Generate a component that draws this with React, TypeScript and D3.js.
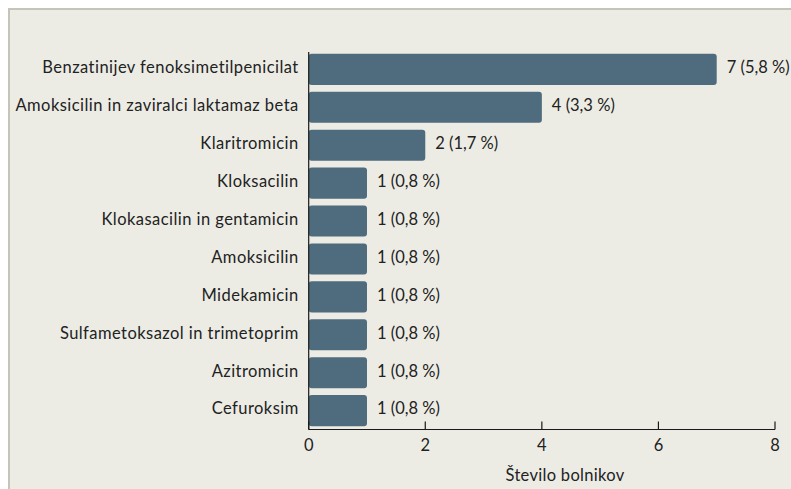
import React, { useEffect, useRef } from "react";
import * as d3 from "d3";

const drugs = [
  "Benzatinijev fenoksimetilpenicilat",
  "Amoksicilin in zaviralci laktamaz beta",
  "Klaritromicin",
  "Kloksacilin",
  "Klokasacilin in gentamicin",
  "Amoksicilin",
  "Midekamicin",
  "Sulfametoksazol in trimetoprim",
  "Azitromicin",
  "Cefuroksim",
];
const patients = [7, 4, 2, 1, 1, 1, 1, 1, 1, 1];
const shares = ["5,8", "3,3", "1,7", "0,8", "0,8", "0,8", "0,8", "0,8", "0,8", "0,8"];
const xTicks = [0, 2, 4, 6, 8];
const xTitle = "Število bolnikov";

const App = () => {
  const svgRef = useRef<SVGSVGElement>(null);

  useEffect(() => {
    const svg = d3.select(svgRef.current);
    svg.selectAll("*").remove();
    const W = 791;
    const H = 489;
    const font = "Lato, 'Noto Sans', sans-serif";
    const fs = 16.5;

    // panel
    svg.append("rect").attr("x", 0).attr("y", 0).attr("width", W).attr("height", H).attr("fill", "#ffffff");
    svg.append("rect").attr("x", 8).attr("y", 8).attr("width", W - 8).attr("height", H - 8).attr("fill", "#c4c4b8");
    svg.append("rect").attr("x", 10).attr("y", 10).attr("width", W - 10).attr("height", H - 10).attr("fill", "#ecece5");

    const x = d3.scaleLinear().domain([0, 8]).range([308.7, 775]);
    const y = d3
      .scaleBand()
      .domain(drugs)
      .range([50, 430])
      .paddingInner(0.18)
      .paddingOuter(0.1);
    const axisY = 429.5;

    const rows = drugs.map((d, i) => ({ name: d, v: patients[i], s: shares[i] }));

    svg
      .selectAll(".bar")
      .data(rows)
      .enter()
      .append("rect")
      .attr("class", "bar")
      .attr("x", x(0))
      .attr("y", (d) => y(d.name)!)
      .attr("width", (d) => x(d.v) - x(0))
      .attr("height", y.bandwidth())
      .attr("rx", 3)
      .attr("fill", "#4f6b7e");

    // category labels
    svg
      .selectAll(".cat")
      .data(rows)
      .enter()
      .append("text")
      .attr("x", x(0) - 10)
      .attr("y", (d) => y(d.name)! + y.bandwidth() / 2 - 2)
      .attr("dy", "0.35em")
      .attr("text-anchor", "end")
      .attr("font-family", font)
      .attr("font-size", fs)
      .attr("letter-spacing", 0.45)
      .attr("fill", "#222")
      .text((d) => d.name);

    // value labels
    svg
      .selectAll(".val")
      .data(rows)
      .enter()
      .append("text")
      .attr("x", (d) => x(d.v) + 10)
      .attr("y", (d) => y(d.name)! + y.bandwidth() / 2 - 2)
      .attr("dy", "0.35em")
      .attr("font-family", font)
      .attr("font-size", fs)
      .attr("fill", "#222")
      .text((d) => `${d.v} (${d.s} %)`);

    // y axis line
    svg
      .append("line")
      .attr("x1", x(0))
      .attr("x2", x(0))
      .attr("y1", 52)
      .attr("y2", axisY)
      .attr("stroke", "#1a1a1a")
      .attr("stroke-width", 1.2);

    // x axis
    svg
      .append("line")
      .attr("x1", x(0))
      .attr("x2", x(8))
      .attr("y1", axisY)
      .attr("y2", axisY)
      .attr("stroke", "#1a1a1a")
      .attr("stroke-width", 1.2);

    const tg = svg.selectAll(".tick").data(xTicks).enter().append("g");
    tg.append("line")
      .attr("x1", (d) => x(d))
      .attr("x2", (d) => x(d))
      .attr("y1", axisY - 8)
      .attr("y2", axisY)
      .attr("stroke", "#1a1a1a")
      .attr("stroke-width", 1.2);
    tg.append("text")
      .attr("x", (d) => x(d))
      .attr("y", 451)
      .attr("text-anchor", "middle")
      .attr("font-family", font)
      .attr("font-size", fs)
      .attr("fill", "#222")
      .text((d) => d);

    svg
      .append("text")
      .attr("x", 565)
      .attr("y", 481)
      .attr("text-anchor", "middle")
      .attr("font-family", font)
      .attr("font-size", fs)
      .attr("letter-spacing", 0.3)
      .attr("fill", "#222")
      .text(xTitle);
  }, []);

  return (
    <svg
      ref={svgRef}
      width={791}
      height={489}
      style={{ position: "absolute", left: 0, top: 0, display: "block" }}
    />
  );
};

export default App;
